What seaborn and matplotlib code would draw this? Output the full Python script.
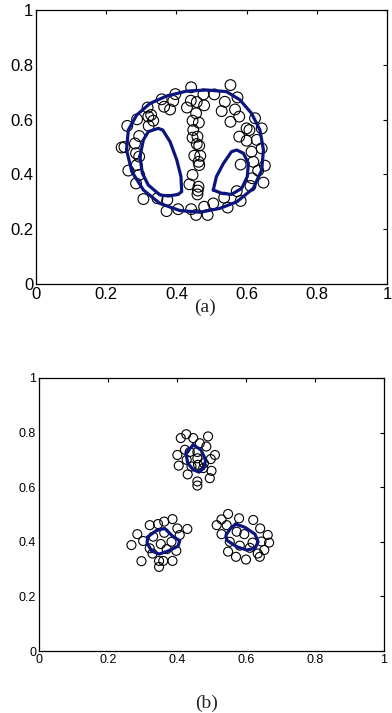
import numpy as np
import pandas as pd
import seaborn as sns
import matplotlib.pyplot as plt

# panel (a): sample points
a_x = [0.244, 0.252, 0.260, 0.263, 0.288, 0.294, 0.282, 0.285, 0.294, 0.287,
       0.294, 0.285, 0.306, 0.318, 0.320, 0.328, 0.334, 0.321, 0.358, 0.365,
       0.382, 0.391, 0.397, 0.374, 0.372, 0.405, 0.442, 0.441, 0.430, 0.458,
       0.477, 0.479, 0.456, 0.446, 0.464, 0.448, 0.446, 0.460, 0.458, 0.465,
       0.451, 0.468, 0.463, 0.465, 0.446, 0.437, 0.463, 0.461, 0.460, 0.442,
       0.456, 0.489, 0.479, 0.505, 0.508, 0.529, 0.538, 0.554, 0.567, 0.574,
       0.579, 0.554, 0.600, 0.608, 0.624, 0.643, 0.629, 0.600, 0.579, 0.614,
       0.643, 0.619, 0.652, 0.633, 0.583, 0.616, 0.648, 0.611, 0.572, 0.583,
       0.546, 0.536, 0.346]
a_y = [0.498, 0.500, 0.577, 0.414, 0.601, 0.540, 0.513, 0.477, 0.465, 0.434,
       0.398, 0.367, 0.310, 0.644, 0.611, 0.617, 0.596, 0.577, 0.674, 0.647,
       0.637, 0.668, 0.693, 0.307, 0.266, 0.273, 0.718, 0.669, 0.644, 0.664,
       0.692, 0.652, 0.623, 0.596, 0.589, 0.562, 0.534, 0.538, 0.511, 0.505,
       0.468, 0.468, 0.446, 0.434, 0.398, 0.364, 0.355, 0.341, 0.327, 0.273,
       0.252, 0.252, 0.282, 0.294, 0.692, 0.631, 0.665, 0.726, 0.637, 0.681,
       0.611, 0.592, 0.568, 0.562, 0.605, 0.568, 0.526, 0.523, 0.538, 0.483,
       0.495, 0.446, 0.432, 0.414, 0.436, 0.386, 0.370, 0.358, 0.339, 0.303,
       0.279, 0.315, 0.313]

# panel (a): contour loops
a_outer_x = [0.258, 0.263, 0.287, 0.325, 0.372, 0.429, 0.486, 0.543, 0.581, 0.614,
             0.638, 0.648, 0.643, 0.619, 0.572, 0.524, 0.467, 0.410, 0.353, 0.306,
             0.273, 0.258]
a_outer_y = [0.489, 0.562, 0.617, 0.659, 0.686, 0.704, 0.708, 0.702, 0.672, 0.623,
             0.562, 0.489, 0.416, 0.349, 0.300, 0.276, 0.262, 0.268, 0.294, 0.343,
             0.410, 0.489]
a_left_x = [0.296, 0.306, 0.320, 0.348, 0.361, 0.382, 0.401, 0.413, 0.415, 0.405,
            0.377, 0.353, 0.320, 0.303, 0.296]
a_left_y = [0.465, 0.526, 0.556, 0.568, 0.562, 0.519, 0.453, 0.392, 0.337, 0.327,
            0.321, 0.325, 0.361, 0.404, 0.465]
a_right_x = [0.505, 0.514, 0.534, 0.557, 0.572, 0.591, 0.605, 0.602, 0.586, 0.557,
             0.529, 0.505]
a_right_y = [0.343, 0.392, 0.440, 0.483, 0.489, 0.477, 0.440, 0.392, 0.349, 0.327,
             0.331, 0.343]

# panel (b): sample points (three clusters)
b_x = [0.411, 0.427, 0.447, 0.490, 0.485, 0.466, 0.423, 0.401, 0.437, 0.459,
       0.459, 0.461, 0.510, 0.498, 0.405, 0.442, 0.478, 0.500, 0.431, 0.495,
       0.459, 0.459, 0.428, 0.476,
       0.268, 0.285, 0.302, 0.321, 0.345, 0.363, 0.387, 0.401, 0.430, 0.408,
       0.363, 0.331, 0.353, 0.384, 0.398, 0.370, 0.329, 0.297, 0.360, 0.387,
       0.348, 0.348, 0.321,
       0.529, 0.548, 0.580, 0.621, 0.529, 0.544, 0.573, 0.595, 0.641, 0.663,
       0.667, 0.645, 0.619, 0.553, 0.582, 0.653, 0.634, 0.548, 0.571, 0.600,
       0.640, 0.611, 0.515]
b_y = [0.780, 0.794, 0.780, 0.786, 0.749, 0.761, 0.737, 0.718, 0.729, 0.729,
       0.706, 0.682, 0.718, 0.703, 0.679, 0.676, 0.688, 0.660, 0.647, 0.633,
       0.621, 0.606, 0.700, 0.670,
       0.388, 0.428, 0.403, 0.461, 0.465, 0.474, 0.483, 0.449, 0.447, 0.425,
       0.433, 0.419, 0.392, 0.400, 0.367, 0.373, 0.357, 0.329, 0.330, 0.330,
       0.330, 0.308, 0.376,
       0.482, 0.502, 0.486, 0.480, 0.428, 0.461, 0.437, 0.428, 0.449, 0.425,
       0.397, 0.401, 0.397, 0.400, 0.386, 0.370, 0.357, 0.364, 0.345, 0.335,
       0.345, 0.378, 0.461]

# panel (b): contour loops
b_top_x = [0.447, 0.469, 0.483, 0.478, 0.464, 0.447, 0.431, 0.426, 0.447]
b_top_y = [0.755, 0.737, 0.700, 0.670, 0.655, 0.664, 0.688, 0.725, 0.755]
b_left_x = [0.316, 0.340, 0.364, 0.389, 0.408, 0.403, 0.374, 0.348, 0.326, 0.313, 0.316]
b_left_y = [0.419, 0.441, 0.449, 0.419, 0.404, 0.384, 0.366, 0.355, 0.367, 0.397, 0.419]
b_right_x = [0.570, 0.597, 0.626, 0.635, 0.626, 0.602, 0.573, 0.544, 0.542, 0.555, 0.570]
b_right_y = [0.465, 0.453, 0.428, 0.400, 0.376, 0.370, 0.382, 0.406, 0.425, 0.449, 0.465]

ticks = [0, 0.2, 0.4, 0.6, 0.8, 1]
tick_labels = ["0", "0.2", "0.4", "0.6", "0.8", "1"]
line_color = "#0b1580"

sns.set_style("white")
plt.rcParams['font.family'] = ['Liberation Sans', 'DejaVu Sans']

fig = plt.figure(figsize=(3.92, 7.13), dpi=100)
ax1 = fig.add_axes([36 / 392, (713 - 284) / 713, 351 / 392, 274 / 713])
ax2 = fig.add_axes([39 / 392, (713 - 651) / 713, 345 / 392, 273 / 713])


def draw_panel(ax, px, py, loops, msize, fsize):
    pts = pd.DataFrame({"x": px, "y": py})
    sns.scatterplot(data=pts, x="x", y="y", ax=ax, marker="o", s=msize,
                    facecolors="none", edgecolor="black", linewidth=0.8, zorder=2)
    for lx, ly in loops:
        loop = pd.DataFrame({"x": lx, "y": ly})
        sns.lineplot(data=loop, x="x", y="y", ax=ax, sort=False, estimator=None,
                     color=line_color, linewidth=2.3, zorder=3,
                     solid_joinstyle="round", solid_capstyle="round")
    ax.set_xlim(0, 1)
    ax.set_ylim(0, 1)
    ax.set_xticks(ticks)
    ax.set_yticks(ticks)
    ax.set_xticklabels(tick_labels)
    ax.set_yticklabels(tick_labels)
    ax.set_xlabel("")
    ax.set_ylabel("")
    ax.tick_params(direction="in", length=3, width=0.8, top=True, right=True,
                   labelsize=fsize, colors="black", pad=2)
    for sp in ax.spines.values():
        sp.set_visible(True)
        sp.set_color("black")
        sp.set_linewidth(0.9)


draw_panel(ax1, a_x, a_y, [(a_outer_x, a_outer_y), (a_left_x, a_left_y),
                           (a_right_x, a_right_y)], 60, 12)
draw_panel(ax2, b_x, b_y, [(b_top_x, b_top_y), (b_left_x, b_left_y),
                           (b_right_x, b_right_y)], 42, 9)

fig.text(205 / 392, 1 - 307 / 713, "(a)", ha="center", va="center",
         family="Liberation Serif", fontsize=14)
fig.text(207 / 392, 1 - 703 / 713, "(b)", ha="center", va="center",
         family="Liberation Serif", fontsize=14)

fig.savefig("out.png", dpi=100)
